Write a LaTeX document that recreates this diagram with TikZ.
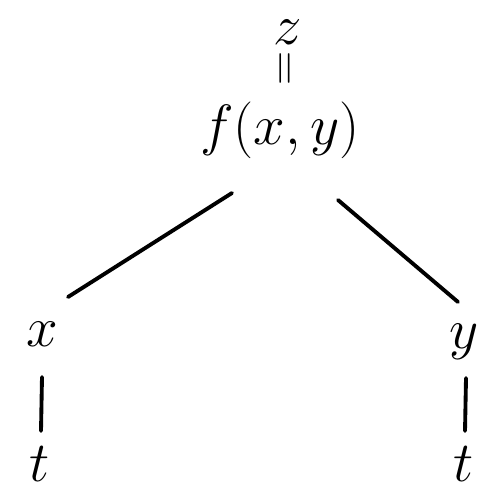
\documentclass[tikz,border=0pt]{standalone}
\usepackage{amsmath}
\usetikzlibrary{positioning, calc}

\begin{document}
\begin{tikzpicture}[
    x=0.02cm, y=-0.02cm,
    var/.style={inner sep=2pt, font=\Huge, scale=1.3},
    edge/.style={draw, line width=2.2pt, line cap=round},
]
\useasboundingbox (0,0) rectangle (502,497);
\node [var] (z) at (288,32) {$z$};
\node [var, rotate=90, font=\huge] (eq) at (288,68) {$=$};
\node [var] (f) at (280,130) {$f(x,y)$};
\node [var] (x) at (42,334) {$x$};
\node [var] (y) at (464,342) {$y$};
\node [var] (tl) at (40,464) {$t$};
\node [var] (tr) at (464,464) {$t$};

\path [edge] ($(f)+(-48,63)$) -- ($(x)+(26,-37)$);
\path [edge] ($(f)+(58,70)$) -- ($(y)+(-6,-40)$);
\path [edge] ($(x)+(0,43)$) -- ($(tl)+(1,-33)$);
\path [edge] ($(y)+(2,36)$) -- ($(tr)+(1,-33)$);
\end{tikzpicture}
\end{document}
